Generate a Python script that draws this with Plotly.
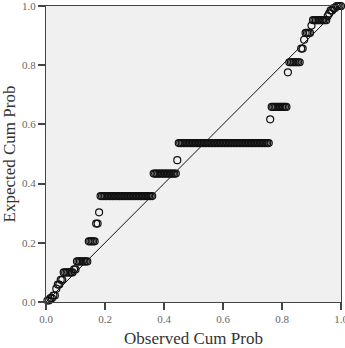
import numpy as np
import plotly.graph_objects as go

# Expected cumulative probability of each tied group (sorted), and the number of cases in it
expected_levels = [0.005, 0.013, 0.022, 0.045, 0.059, 0.075, 0.100, 0.110, 0.137, 0.205,
                   0.265, 0.303, 0.358, 0.434, 0.479, 0.537, 0.617, 0.659, 0.776, 0.810,
                   0.856, 0.886, 0.909, 0.934, 0.952, 0.966, 0.975, 0.985, 0.993, 1.000]
group_counts = [2, 2, 2, 1, 2, 2, 7, 2, 8, 5,
                2, 1, 36, 16, 1, 62, 1, 11, 1, 8,
                2, 1, 4, 1, 10, 1, 1, 2, 2, 4]

tick_vals = [0.0, 0.2, 0.4, 0.6, 0.8, 1.0]
tick_text = ["0.0", "0.2", "0.4", "0.6", "0.8", "1.0"]

# Observed cum prob = rank / n ; expected cum prob repeated for ties
n = sum(group_counts)
expected = np.repeat(expected_levels, group_counts)
observed = np.arange(1, n + 1) / n

fig = go.Figure()
fig.add_trace(go.Scatter(x=[0, 1], y=[0, 1], mode="lines",
                         line=dict(color="#111111", width=1), hoverinfo="skip"))
fig.add_trace(go.Scatter(x=observed, y=expected, mode="markers", cliponaxis=False,
                         marker=dict(symbol="circle-open", size=7, color="#111111",
                                     line=dict(color="#111111", width=1.2))))

axis_common = dict(range=[0, 1], tickvals=tick_vals, ticktext=tick_text, automargin=False,
                   showgrid=False, zeroline=False, showline=True, linecolor="#444444",
                   linewidth=1, mirror=True, ticks="outside", ticklen=7, tickwidth=1.5,
                   tickcolor="#444444", ticklabeloverflow="allow",
                   tickfont=dict(family="Liberation Serif", size=11, color="#666666"))

fig.update_layout(
    width=345, height=348,
    margin=dict(l=46, r=4, t=6, b=46),
    paper_bgcolor="white", plot_bgcolor="#f0f0f0",
    showlegend=False,
    xaxis=dict(axis_common,
               title=dict(text="Observed Cum Prob", standoff=14,
                          font=dict(family="Liberation Serif", size=17, color="#333333"))),
    yaxis=dict(axis_common,
               title=dict(text="Expected Cum Prob", standoff=6,
                          font=dict(family="Liberation Serif", size=17, color="#333333"))),
)

fig.write_html("out.html")
